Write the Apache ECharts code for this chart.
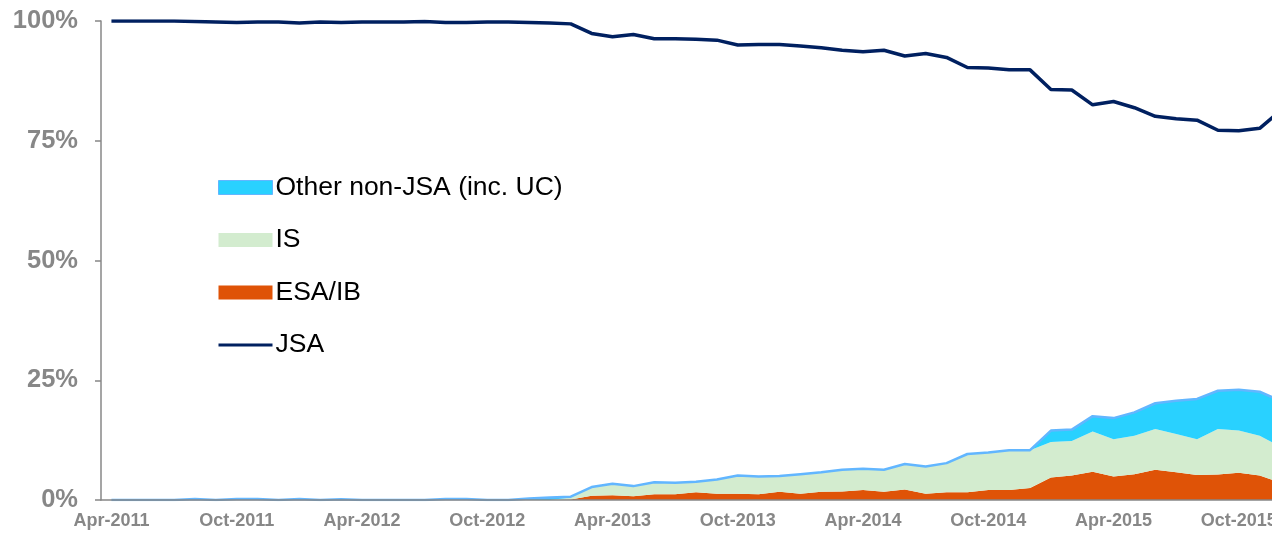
<!DOCTYPE html>
<html>
<head>
<meta charset="utf-8">
<script src="https://cdn.jsdelivr.net/npm/echarts@6/dist/echarts.min.js"></script>
<style>
  html, body { margin: 0; padding: 0; background: #fff; overflow: hidden; }
  #main { width: 1310px; height: 533px; }
</style>
</head>
<body>
<div id="main"></div>
<script>
// monthly categories Apr-2011 .. Dec-2015
var monthNames = ['Jan','Feb','Mar','Apr','May','Jun','Jul','Aug','Sep','Oct','Nov','Dec'];
var categories = [];
for (var y = 2011; y <= 2015; y++) {
  for (var m = 0; m < 12; m++) {
    if (y === 2011 && m < 3) continue;
    categories.push(monthNames[m] + '-' + y);
  }
}

var yTicks = [0, 25, 50, 75, 100];

var esaIb = [0,0,0,0,0,0,0,0,0,0,0,0,0,0,0,0,0,0,0,0,0,0,
  0.1,0.9,1.0,0.8,1.2,1.2,1.6,1.3,1.3,1.2,1.7,1.3,1.7,1.8,2.1,1.7,2.2,1.3,1.6,1.6,2.1,2.1,2.5,
  4.7,5.1,5.9,4.9,5.4,6.3,5.8,5.2,5.3,5.7,5.1,3.6];

var incomeSupport = [0,0,0,0,0,0,0,0,0,0,0,0,0,0,0,0,0,0,0,0,0,0,
  0.4,1.8,2.4,2.1,2.5,2.4,2.2,3.0,3.8,3.7,3.3,4.1,4.1,4.5,4.4,4.6,5.3,5.7,6.1,8.0,7.8,8.3,7.9,
  7.4,7.2,8.4,7.8,8.0,8.5,8.0,7.5,9.5,8.8,8.3,7.5];

var otherNonJsa = [0,0,0,0,0.2,0,0.2,0.2,0,0.2,0,0.15,0,0,0,0,0.2,0.2,0,0,0.3,0.5,
  0.2,0,0,0,0,0,0,0,0,0,0,0,0,0,0,0,0,0,0,0,0,0,0,
  2.4,2.4,3.2,4.4,4.9,5.4,6.9,8.4,8.0,8.5,9.2,9.6];

var jsa = [100,100,100,100,99.9,99.8,99.7,99.8,99.8,99.6,99.8,99.7,99.8,99.8,99.8,99.9,99.7,99.7,99.8,99.8,99.7,99.6,
  99.4,97.4,96.7,97.2,96.3,96.3,96.2,96.0,95.0,95.1,95.1,94.8,94.4,93.9,93.6,93.9,92.7,93.2,92.4,90.3,90.2,89.8,89.8,
  85.7,85.6,82.5,83.2,81.9,80.1,79.6,79.3,77.2,77.1,77.6,81.3];

var chart = echarts.init(document.getElementById('main'));
var gray = '#878787';
var font = "'Liberation Sans', Arial, sans-serif";

chart.setOption({
  animation: false,
  grid: { left: 101, right: 19, top: 21, bottom: 33, containLabel: false },
  legend: {
    orient: 'vertical',
    left: 218,
    top: 174,
    padding: 0,
    itemWidth: 54,
    itemHeight: 14,
    itemGap: 25.5,
    textStyle: { fontFamily: font, fontSize: 26.5, color: '#000', padding: [0, 0, 0, -2] },
    data: [
      { name: 'Other non-JSA (inc. UC)', icon: 'rect', itemStyle: { color: '#29D1FF', borderColor: '#62B6FF', borderWidth: 1 } },
      { name: 'IS', icon: 'rect', itemStyle: { color: '#D3ECCF', borderWidth: 0 } },
      { name: 'ESA/IB', icon: 'rect', itemStyle: { color: '#DF5307', borderWidth: 0 } },
      { name: 'JSA', icon: 'path://M0,0H54V3H0Z', itemStyle: { color: '#002060', borderWidth: 0 } }
    ]
  },
  xAxis: {
    type: 'category',
    data: categories,
    boundaryGap: true,
    z: 10,
    axisLine: { lineStyle: { color: gray, width: 1.5 } },
    axisTick: { interval: 5, length: 6, lineStyle: { color: gray, width: 1.5 } },
    axisLabel: {
      interval: 5,
      margin: 12,
      color: gray,
      fontFamily: font,
      fontSize: 18,
      fontWeight: 'bold'
    },
    splitLine: { show: false }
  },
  yAxis: {
    type: 'value',
    min: yTicks[0],
    max: yTicks[yTicks.length - 1],
    interval: 25,
    axisLine: { show: true, lineStyle: { color: gray, width: 1.5 } },
    axisTick: { show: true, length: 6, lineStyle: { color: gray, width: 1.5 } },
    axisLabel: {
      margin: 23,
      color: gray,
      fontFamily: font,
      fontSize: 25.5,
      fontWeight: 'bold',
      formatter: '{value}%'
    },
    splitLine: { show: false }
  },
  series: [
    {
      name: 'ESA/IB',
      type: 'line',
      stack: 'total',
      data: esaIb,
      symbol: 'none',
      color: '#DF5307',
      lineStyle: { width: 0 },
      areaStyle: { color: '#DF5307', opacity: 1 }
    },
    {
      name: 'IS',
      type: 'line',
      stack: 'total',
      data: incomeSupport,
      symbol: 'none',
      color: '#D3ECCF',
      lineStyle: { width: 0 },
      areaStyle: { color: '#D3ECCF', opacity: 1 }
    },
    {
      name: 'Other non-JSA (inc. UC)',
      type: 'line',
      stack: 'total',
      data: otherNonJsa,
      symbol: 'none',
      color: '#29D1FF',
      lineStyle: { width: 2.5, color: '#62B6FF' },
      areaStyle: { color: '#29D1FF', opacity: 1 }
    },
    {
      name: 'JSA',
      type: 'line',
      data: jsa,
      symbol: 'none',
      color: '#002060',
      lineStyle: { width: 3.5, color: '#002060' }
    }
  ]
});
</script>
</body>
</html>
